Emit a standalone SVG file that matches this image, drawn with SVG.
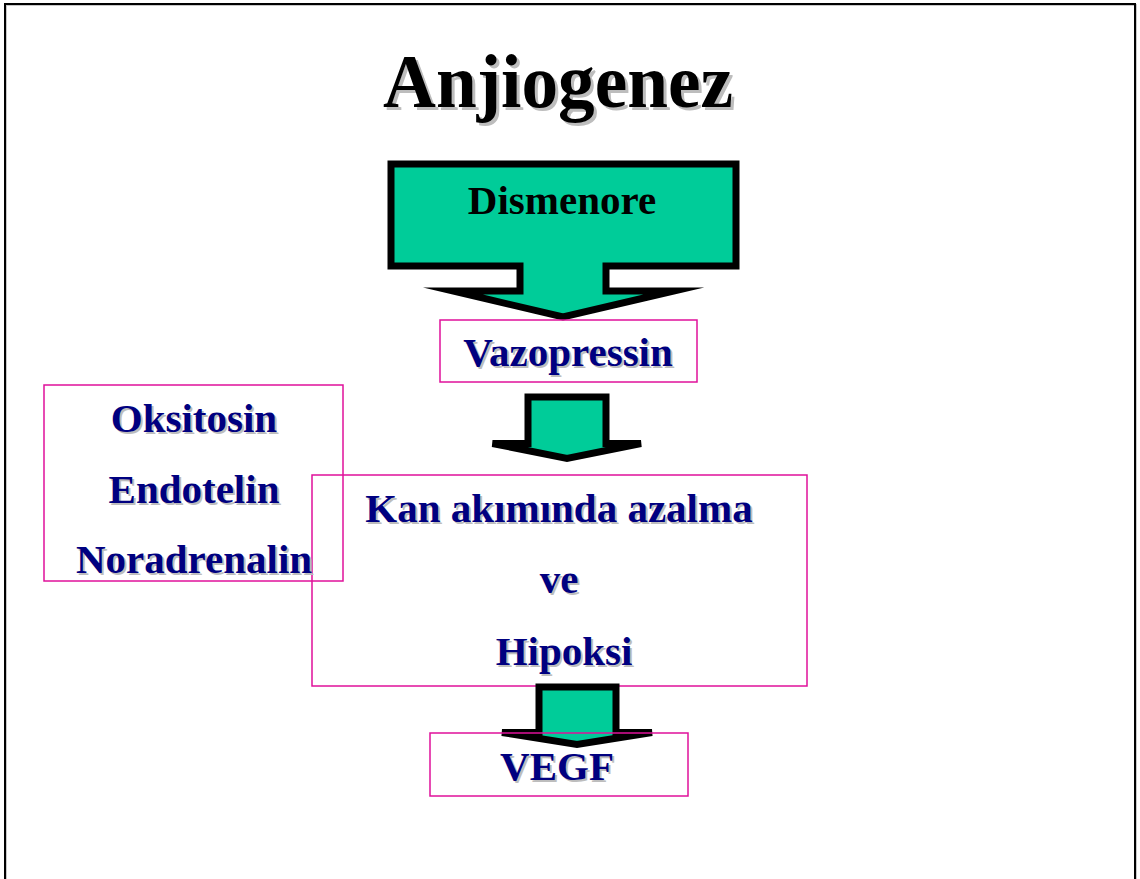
<svg xmlns="http://www.w3.org/2000/svg" width="1140" height="879" viewBox="0 0 1140 879">
<defs>
<style>
.arrow{fill:#00CC99;stroke:#000;stroke-width:7;stroke-linejoin:miter;stroke-miterlimit:10}
.box{fill:none;stroke:#E0109A;stroke-width:1.5}
.t{font-family:"Liberation Serif","Times New Roman",serif;font-weight:bold;text-anchor:middle}
.nv{fill:#000080;font-size:41px}
.sh{fill:#BDBDBD;font-size:41px}
</style>
</defs>
<rect width="1140" height="879" fill="#fff"/>
<path d="M5,879 V4 H1135 V879" fill="none" stroke="#C8C8C8" stroke-width="2" transform="translate(1,1)"/>
<path d="M5,879 V4 H1135 V879" fill="none" stroke="#000" stroke-width="2"/>

<g id="title">
<text class="t" x="561" y="110" font-size="76" fill="#BDBDBD" textLength="350" lengthAdjust="spacingAndGlyphs">Anjiogenez</text>
<text class="t" x="558" y="107" font-size="76" fill="#000" textLength="350" lengthAdjust="spacingAndGlyphs">Anjiogenez</text>
</g>

<g id="connectors">
<path id="arrow-dismenore" class="arrow" d="M391,164 H736 V266 H606 V291 H674 L563,317 L453,291 H520 V266 H391 Z"/>
<path id="arrow-vazo" class="arrow" d="M528,397 H606 V443.5 H641 L567,458.5 L492.5,443.5 H528 Z"/>
</g>

<g id="node-dismenore">
<text class="t" x="562" y="214" font-size="41" fill="#000">Dismenore</text>
</g>

<g id="node-vazopressin">
<rect class="box" x="440" y="320" width="257" height="62"/>
<text class="t sh" x="570" y="368">Vazopressin</text>
<text class="t nv" x="568" y="366">Vazopressin</text>
</g>

<g id="node-kan">
<rect class="box" x="312" y="475" width="495" height="211"/>
<text class="t sh" x="561" y="524">Kan akımında azalma</text>
<text class="t nv" x="559" y="522">Kan akımında azalma</text>
<text class="t sh" x="561" y="595">ve</text>
<text class="t nv" x="559" y="593">ve</text>
<text class="t sh" x="566" y="667">Hipoksi</text>
<text class="t nv" x="564" y="665">Hipoksi</text>
</g>

<g id="node-left">
<rect class="box" x="44" y="385" width="299" height="196"/>
<text class="t sh" x="196" y="434">Oksitosin</text>
<text class="t nv" x="194" y="432">Oksitosin</text>
<text class="t sh" x="196" y="505">Endotelin</text>
<text class="t nv" x="194" y="503">Endotelin</text>
<text class="t sh" x="196" y="575">Noradrenalin</text>
<text class="t nv" x="194" y="573">Noradrenalin</text>
</g>

<g id="connectors2">
<path id="arrow-hipoksi" class="arrow" d="M539,687 H616 V732.5 H652 L577,744.5 L502,732.5 H539 Z"/>
</g>

<g id="node-vegf">
<rect class="box" x="430" y="733" width="258" height="63"/>
<text class="t sh" x="559" y="782">VEGF</text>
<text class="t nv" x="557" y="780">VEGF</text>
</g>
</svg>
